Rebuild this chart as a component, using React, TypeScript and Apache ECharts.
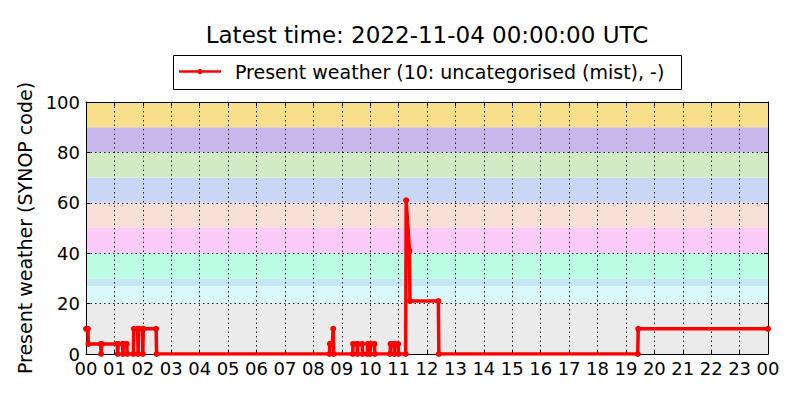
import { useEffect, useRef } from 'react';
import * as echarts from 'echarts';
import type { EChartsOption } from 'echarts';

const FONT = 'DejaVu Sans';

// runs of constant SYNOP code (times in HH:MM, end inclusive)
const runStart = [
  '00:00', '00:05', '00:32', '00:33', '01:07', '01:08', '01:18', '01:19', '01:27', '01:41',
  '01:50', '01:51', '02:00', '02:01', '02:29', '08:35', '08:42', '08:43', '09:24', '09:33',
  '09:34', '09:44', '09:55', '10:00', '10:01', '10:10', '10:43', '10:51', '10:52', '11:00',
  '11:16', '11:23', '11:24', '12:25', '19:26',
];
const runEnd = [
  '00:04', '00:31', '00:32', '01:06', '01:07', '01:17', '01:18', '01:26', '01:40', '01:49',
  '01:50', '01:59', '02:00', '02:28', '08:34', '08:40', '08:42', '09:23', '09:32', '09:33',
  '09:43', '09:54', '09:59', '10:00', '10:09', '10:42', '10:50', '10:51', '10:59', '11:15',
  '11:16', '11:23', '12:24', '19:25', '24:00',
];
const runValue = [
  10, 4, 0, 4, 0, 4, 0, 4, 0, 10,
  0, 10, 0, 10, 0, 4, 10, 0, 4, 0,
  4, 0, 4, 0, 4, 0, 4, 0, 4, 0,
  61, 41, 21, 0, 10,
];

// background bands (SYNOP code groups)
const bandLow = [0, 20, 27, 30, 40, 50, 60, 70, 80, 90];
const bandHigh = [20, 27, 30, 40, 50, 60, 70, 80, 90, 100];
const bandColor = [
  '#ebebeb', '#d9f9fd', '#c5e9f3', '#bcfde5', '#fccbfa',
  '#f8dfd7', '#c9d6f5', '#d2ebc4', '#c9b8ec', '#f8df8b',
];

const yTicks = [0, 20, 40, 60, 80, 100];
const hourLabels = ['00', '01', '02', '03', '04', '05', '06', '07', '08', '09', '10', '11',
  '12', '13', '14', '15', '16', '17', '18', '19', '20', '21', '22', '23', '00'];

const seriesName = 'Present weather (10: uncategorised (mist), -)';
const titleText = 'Latest time: 2022-11-04 00:00:00 UTC';

const toHours = (s: string) => {
  const [h, m] = s.split(':').map(Number);
  return h + m / 60;
};

export default function App() {
  const chartRef = useRef<HTMLDivElement>(null);

  useEffect(() => {
    if (!chartRef.current) return;
    const chart = echarts.init(chartRef.current, undefined, { renderer: 'svg' });

    const points: [number, number][] = [];
    runStart.forEach((s, i) => {
      points.push([toHours(s), runValue[i]]);
      if (runEnd[i] !== s) points.push([toHours(runEnd[i]), runValue[i]]);
    });

    const bands = bandLow.map((lo, i) => [
      { yAxis: lo, itemStyle: { color: bandColor[i] } },
      { yAxis: bandHigh[i] },
    ]);

    const tickText = { color: '#000', fontSize: 18, fontFamily: FONT };
    const dotted = { color: '#222', width: 1, type: [1.5, 3] as number[] };

    const option: EChartsOption = {
      animation: false,
      backgroundColor: '#fff',
      textStyle: { fontFamily: FONT },
      grid: { left: 86, right: 32, top: 102, bottom: 46 },
      xAxis: [
        {
          type: 'value',
          min: 0,
          max: 24,
          interval: 1,
          z: 3,
          axisLine: { show: true, lineStyle: { color: '#000', width: 1 } },
          axisTick: { show: true, inside: true, length: 4, lineStyle: { color: '#000' } },
          axisLabel: {
            ...tickText,
            margin: 5,
            formatter: (v: number) => hourLabels[Math.round(v)],
          },
          splitLine: { show: true, lineStyle: dotted },
        },
        {
          type: 'value',
          position: 'top',
          min: 0,
          max: 24,
          interval: 1,
          z: 3,
          axisLine: { show: true, onZero: false, lineStyle: { color: '#000', width: 1 } },
          axisTick: { show: true, inside: true, length: 4, lineStyle: { color: '#000' } },
          axisLabel: { show: false },
          splitLine: { show: false },
        },
      ],
      yAxis: [
        {
          type: 'value',
          min: 0,
          max: 100,
          interval: 20,
          z: 3,
          name: 'Present weather (SYNOP code)',
          nameLocation: 'middle',
          nameGap: 46,
          nameTextStyle: { color: '#000', fontSize: 19, fontFamily: FONT },
          axisLine: { show: true, lineStyle: { color: '#000', width: 1 } },
          axisTick: { show: true, inside: true, length: 4, lineStyle: { color: '#000' } },
          axisLabel: {
            ...tickText,
            margin: 6,
            formatter: (v: number) => (yTicks.includes(v) ? String(v) : ''),
          },
          splitLine: { show: true, lineStyle: dotted },
        },
        {
          type: 'value',
          position: 'right',
          min: 0,
          max: 100,
          interval: 20,
          z: 3,
          axisLine: { show: true, onZero: false, lineStyle: { color: '#000', width: 1 } },
          axisTick: { show: true, inside: true, length: 4, lineStyle: { color: '#000' } },
          axisLabel: { show: false },
          splitLine: { show: false },
        },
      ],
      graphic: [
        {
          type: 'text',
          x: 427,
          y: 35,
          style: {
            text: titleText,
            fill: '#000',
            font: `23px "${FONT}"`,
            align: 'center',
            verticalAlign: 'middle',
          },
        },
        {
          type: 'rect',
          shape: { x: 173.5, y: 55.5, width: 508, height: 34 },
          style: { fill: '#fff', stroke: '#000', lineWidth: 1 },
        },
        {
          type: 'line',
          shape: { x1: 179, y1: 71.5, x2: 221, y2: 71.5 },
          style: { stroke: '#ff0000', lineWidth: 2.5 },
        },
        {
          type: 'circle',
          shape: { cx: 200, cy: 71.5, r: 2.5 },
          style: { fill: '#ff0000' },
        },
        {
          type: 'text',
          x: 235,
          y: 72,
          style: {
            text: seriesName,
            fill: '#000',
            font: `19px "${FONT}"`,
            verticalAlign: 'middle',
          },
        },
      ],
      series: [
        {
          name: seriesName,
          type: 'line',
          z: 5,
          data: points,
          showAllSymbol: true,
          symbol: 'circle',
          symbolSize: 6,
          itemStyle: { color: '#ff0000', borderWidth: 0 },
          lineStyle: { color: '#ff0000', width: 3.5 },
          markArea: {
            silent: true,
            z: 1,
            itemStyle: { borderWidth: 0 },
            data: bands as any,
          },
        },
      ],
    };

    chart.setOption(option);
    return () => chart.dispose();
  }, []);

  return (
    <div
      ref={chartRef}
      style={{ position: 'fixed', left: 0, top: 0, width: 800, height: 400 }}
    />
  );
}
